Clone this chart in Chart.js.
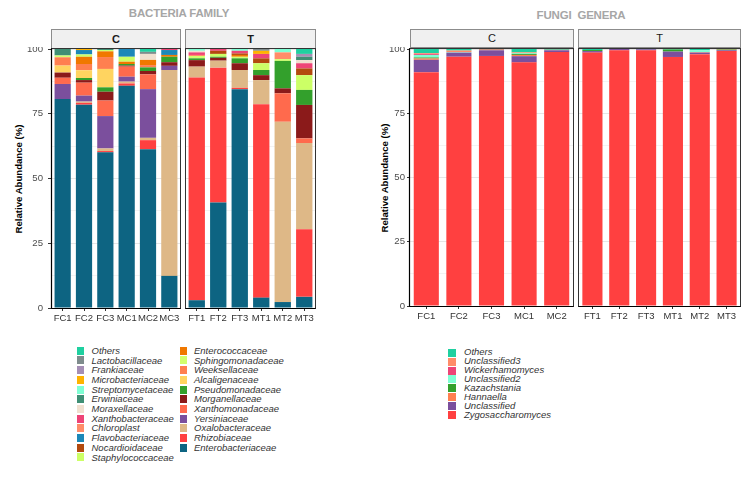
<!DOCTYPE html>
<html><head><meta charset="utf-8">
<script src="https://cdn.jsdelivr.net/npm/chart.js@4.4.1/dist/chart.umd.min.js"></script>
<style>
html,body{margin:0;padding:0;background:#fff;}
body{width:750px;height:483px;position:relative;overflow:hidden;font-family:"Liberation Sans",Arial,sans-serif;}
canvas{position:absolute;}
.title{position:absolute;color:#a6a6a6;font-size:11.5px;font-weight:bold;white-space:pre;transform:translate(-50%,-50%);letter-spacing:-0.2px;}
.strip{position:absolute;background:#f0f0f0;border:1px solid #8c8c8c;box-sizing:border-box;text-align:center;color:#1a1a1a;font-size:11px;}
.ytitle{position:absolute;font-weight:bold;font-size:9.6px;color:#000;transform:translate(-50%,-50%) rotate(-90deg);white-space:nowrap;}
.leg{position:absolute;font-style:italic;font-size:9.5px;color:#333;white-space:nowrap;}
.sw{position:absolute;}
</style></head>
<body>
<div class="title" style="left:179px;top:13px;">BACTERIA FAMILY</div>
<div class="title" style="left:581px;top:15px;">FUNGI  GENERA</div>
<div class="ytitle" style="left:17.5px;top:179px;">Relative Abundance (%)</div>
<div class="ytitle" style="left:384px;top:178px;">Relative Abundance (%)</div>
<div class="strip" style="left:51px;top:29px;width:130px;height:20px;line-height:18px;font-weight:bold;">C</div>
<div class="strip" style="left:185px;top:29px;width:131px;height:20px;line-height:18px;font-weight:bold;">T</div>
<div class="strip" style="left:410px;top:29px;width:164px;height:19px;line-height:17px;">C</div>
<div class="strip" style="left:578px;top:29px;width:163px;height:19px;line-height:17px;">T</div>
<canvas id="bc"></canvas><canvas id="bt"></canvas><canvas id="fc"></canvas><canvas id="ft"></canvas>
<div id="legends"></div>
<script>
// ---------- categories ----------
const bacteriaSamplesC = ["FC1","FC2","FC3","MC1","MC2","MC3"];
const bacteriaSamplesT = ["FT1","FT2","FT3","MT1","MT2","MT3"];
const fungiSamplesC = ["FC1","FC2","FC3","MC1","MC2"];
const fungiSamplesT = ["FT1","FT2","FT3","MT1","MT2","MT3"];
const yTickValues = [0, 25, 50, 75, 100];

// ---------- bacteria (values in order FC1,FC2,FC3,MC1,MC2,MC3,FT1,FT2,FT3,MT1,MT2,MT3) ----------
const Enterobacteriaceae = [80.7, 78.5, 60.1, 85.8, 61.3, 12.4, 3.0, 40.7, 84.5, 4.0, 2.3, 4.3];
const Rhizobiaceae       = [0, 0.7, 0.5, 0.9, 3.5, 0, 86.0, 52.1, 0.5, 74.7, 0, 26.1];
const Oxalobacteraceae   = [0, 0.5, 1.0, 0.7, 0.9, 79.5, 4.2, 2.7, 6.9, 9.3, 69.6, 33.3];
const Yersiniaceae       = [5.8, 2.3, 12.5, 1.9, 18.8, 1.6, 0, 0, 0, 0, 0, 0];
const Xanthomonadaceae   = [2.4, 5.0, 6.0, 3.9, 5.7, 0, 0, 0, 0, 0, 11.0, 1.8];
const Morganellaceae     = [2.0, 1.0, 3.4, 0.4, 1.3, 1.4, 2.5, 1.1, 2.6, 1.9, 1.9, 12.9];
const Pseudomonadaceae   = [0, 0.8, 1.7, 0.6, 1.4, 2.1, 0.7, 0.4, 1.9, 2.0, 10.6, 5.8];
const Alcaligenaceae     = [2.7, 3.0, 7.1, 0, 0, 0, 0, 0, 0, 0, 0, 0];
const Weeksellaceae      = [3.2, 2.4, 4.6, 0, 0.9, 0, 0, 0, 0, 0, 0, 0];
const Sphingomonadaceae  = [0.7, 0, 0, 0, 0, 0, 0.9, 0, 0.6, 0, 0.7, 0];
const Enterococcaceae    = [0, 2.8, 2.2, 0.9, 2.0, 0.7, 0, 0, 0.7, 0, 0, 0];
const Staphylococcaceae  = [0, 0.9, 0.5, 1.9, 0, 0, 0, 1.1, 0, 2.6, 0, 5.7];
const Nocardioidaceae    = [0, 0, 0, 0, 0, 0, 0, 1.2, 0.6, 1.9, 0, 2.6];
const Flavobacteriaceae  = [0, 1.7, 0, 3.0, 0, 1.9, 0, 0, 0, 0, 0, 0];
const Chloroplast        = [0, 0, 0, 0, 0, 0, 0.4, 0, 0, 0, 2.6, 0];
const Xanthobacteraceae  = [0, 0, 0, 0, 0, 0.4, 1.0, 0.7, 1.0, 1.7, 0, 2.0];
const Moraxellaceae      = [0, 0, 0, 0, 2.3, 0, 0.6, 0, 0, 0, 0, 1.2];
const Erwiniaceae        = [2.5, 0, 0.4, 0, 0, 0, 0, 0, 0, 0, 0, 1.3];
const Streptomycetaceae  = [0, 0, 0, 0, 0, 0, 0.7, 0, 0.7, 0, 1.3, 0];
const Microbacteriaceae  = [0, 0.4, 0, 0, 0, 0, 0, 0, 0, 1.2, 0, 0];
const Frankiaceae        = [0, 0, 0, 0, 0, 0, 0, 0, 0, 0, 0, 1.1];
const Lactobacillaceae   = [0, 0, 0, 0, 0.8, 0, 0, 0, 0, 0.7, 0, 0];
const BacOthers          = [0, 0, 0, 0, 1.1, 0, 0, 0, 0, 0, 0, 1.9];

// stack order bottom -> top
const bacteriaNames = ["Enterobacteriaceae","Rhizobiaceae","Oxalobacteraceae","Yersiniaceae","Xanthomonadaceae","Morganellaceae","Pseudomonadaceae","Alcaligenaceae","Weeksellaceae","Sphingomonadaceae","Enterococcaceae","Staphylococcaceae","Nocardioidaceae","Flavobacteriaceae","Chloroplast","Xanthobacteraceae","Moraxellaceae","Erwiniaceae","Streptomycetaceae","Microbacteriaceae","Frankiaceae","Lactobacillaceae","Others"];
const bacteriaColors = ["#0d6482","#ff4040","#deb887","#7b4f9d","#ff6a4d","#8b1a1a","#33a02c","#ffd460","#ff7f50","#d2ff6e","#f07800","#ccff66","#b34a0e","#1c88b8","#ff8c69","#ee4477","#f0e0d0","#3f8f75","#7fffd4","#ffb300","#a58fb5","#7f8c8d","#1fd0a0"];
const bacteriaSeries = [Enterobacteriaceae,Rhizobiaceae,Oxalobacteraceae,Yersiniaceae,Xanthomonadaceae,Morganellaceae,Pseudomonadaceae,Alcaligenaceae,Weeksellaceae,Sphingomonadaceae,Enterococcaceae,Staphylococcaceae,Nocardioidaceae,Flavobacteriaceae,Chloroplast,Xanthobacteraceae,Moraxellaceae,Erwiniaceae,Streptomycetaceae,Microbacteriaceae,Frankiaceae,Lactobacillaceae,BacOthers];

// ---------- fungi (values in order FC1,FC2,FC3,MC1,MC2,FT1,FT2,FT3,MT1,MT2,MT3) ----------
const Zygosaccharomyces = [91.0, 97.0, 97.3, 94.8, 98.8, 98.6, 99.5, 99.5, 96.9, 98.0, 99.2];
const Unclassified      = [4.8, 1.6, 2.2, 2.4, 0.7, 0.6, 0.5, 0.4, 2.1, 0.6, 0.3];
const Hannaella         = [0.5, 0, 0.2, 0.5, 0, 0, 0, 0, 0, 0.2, 0];
const Kazachstania      = [0.4, 0, 0.1, 0.4, 0, 0.4, 0, 0, 0.8, 0, 0.3];
const Unclassified2     = [1.0, 0.2, 0, 0.3, 0, 0, 0, 0, 0, 0.7, 0];
const Wickerhamomyces   = [0.4, 0, 0.2, 0, 0, 0, 0, 0, 0, 0, 0];
const Unclassified3     = [0.3, 0.6, 0, 0.3, 0.2, 0, 0, 0, 0, 0, 0.2];
const FunOthers         = [1.6, 0.6, 0, 1.3, 0.3, 0.4, 0, 0.1, 0.2, 0.5, 0];

const fungiNames = ["Zygosaccharomyces","Unclassified","Hannaella","Kazachstania","Unclassified2","Wickerhamomyces","Unclassified3","Others"];
const fungiColors = ["#ff4040","#7b4f9d","#ff7f50","#33a02c","#7fffd4","#ee4477","#ff8c69","#1fd0a0"];
const fungiSeries = [Zygosaccharomyces,Unclassified,Hannaella,Kazachstania,Unclassified2,Wickerhamomyces,Unclassified3,FunOthers];

const FONT = '"Liberation Sans", Arial, sans-serif';

const boxPlugin = {
  id: 'box',
  afterDatasetsDraw(chart) {
    const {ctx, chartArea: a} = chart;
    const l = Math.round(a.left) - 0.5, t = Math.round(a.top) - 0.5;
    const r = Math.round(a.right) + 0.5, b = Math.round(a.bottom) + 0.5;
    ctx.save();
    ctx.strokeStyle = '#333';
    ctx.lineWidth = 1;
    ctx.strokeRect(l, t, r - l, b - t);
    ctx.strokeStyle = '#000';
    ctx.lineWidth = 1.2;
    ctx.beginPath();
    if (chart.options.scales.y.ticks.display) { ctx.moveTo(l, t); ctx.lineTo(l, b); }
    ctx.moveTo(l, b); ctx.lineTo(r, b);
    ctx.stroke();
    ctx.restore();
  }
};

function panel(id, labels, series, colors, names, from, to, g) {
  const c = document.getElementById(id);
  const yw = g.showY ? g.yw : 0;
  const padL = g.showY ? 0 : 1;
  const L = g.left - yw - padL;
  const T = g.top - 2;
  const W = g.right - L + 2;
  const H = g.bottom - T + 24;
  c.width = W; c.height = H;
  c.style.left = L + 'px'; c.style.top = T + 'px';
  c.style.width = W + 'px'; c.style.height = H + 'px';
  new Chart(c, {
    type: 'bar',
    data: {
      labels: labels,
      datasets: series.map((s, i) => ({
        label: names[i], data: s.slice(from, to), backgroundColor: colors[i],
        borderWidth: 0, barPercentage: g.bp, categoryPercentage: 1
      }))
    },
    options: {
      responsive: false, animation: false, devicePixelRatio: 1,
      layout: {padding: {top: 2, right: 2, left: padL, bottom: 0}},
      plugins: {legend: {display: false}, tooltip: {enabled: false}},
      scales: {
        x: {
          stacked: true, offset: true,
          grid: {display: true, drawOnChartArea: false, offset: false, tickLength: 3, color: '#333', lineWidth: 1},
          border: {display: false},
          ticks: {color: '#333', font: {size: 9.5, family: FONT}, padding: 2, maxRotation: 0, autoSkip: false},
          afterFit(s) { s.height = 24; s.paddingLeft = 0; s.paddingRight = 0; }
        },
        y: {
          stacked: true, min: 0, max: 100,
          afterBuildTicks(s) {
            s.ticks = [];
            for (let i = 0; i < yTickValues.length; i++) {
              s.ticks.push({value: yTickValues[i], major: true});
              if (i < yTickValues.length - 1) s.ticks.push({value: (yTickValues[i] + yTickValues[i + 1]) / 2, minor: true});
            }
          },
          ticks: {
            display: g.showY, autoSkip: false, color: '#4d4d4d', padding: g.tp,
            font: {size: 9.6, family: FONT},
            callback: (v) => (yTickValues.indexOf(v) >= 0 ? String(v) : '')
          },
          grid: {
            drawTicks: g.showY, tickLength: g.tl, lineWidth: 1,
            color: (ctx) => (ctx.tick && yTickValues.indexOf(ctx.tick.value) >= 0 ? '#e6e6e6' : '#f3f3f3'),
            tickColor: (ctx) => (ctx.tick && yTickValues.indexOf(ctx.tick.value) >= 0 ? '#333' : 'rgba(0,0,0,0)')
          },
          border: {display: false},
          afterFit(s) { s.width = yw; s.paddingTop = 0; s.paddingBottom = 0; }
        }
      }
    },
    plugins: [boxPlugin]
  });
}

panel('bc', bacteriaSamplesC, bacteriaSeries, bacteriaColors, bacteriaNames, 0, 6,
  {left: 52, right: 180, top: 49, bottom: 308, showY: true, yw: 52, tl: 4, tp: 5, bp: 0.76});
panel('bt', bacteriaSamplesT, bacteriaSeries, bacteriaColors, bacteriaNames, 6, 12,
  {left: 186, right: 315, top: 49, bottom: 308, showY: false, yw: 0, tl: 4, tp: 5, bp: 0.76});
panel('fc', fungiSamplesC, fungiSeries, fungiColors, fungiNames, 0, 5,
  {left: 410, right: 573, top: 49, bottom: 306, showY: true, yw: 50, tl: 3, tp: 2, bp: 0.77});
panel('ft', fungiSamplesT, fungiSeries, fungiColors, fungiNames, 5, 11,
  {left: 579, right: 740, top: 49, bottom: 306, showY: false, yw: 0, tl: 3, tp: 2, bp: 0.75});

// ---------- legends (HTML, real text) ----------
function legendColumn(names, colors, x0, textX, y0, step, sw, sh) {
  const host = document.getElementById('legends');
  names.forEach((n, i) => {
    const cy = y0 + i * step;
    const s = document.createElement('div');
    s.className = 'sw';
    s.style.cssText = `left:${x0}px;top:${cy - sh / 2}px;width:${sw}px;height:${sh}px;background:${colors[i]};`;
    host.appendChild(s);
    const t = document.createElement('div');
    t.className = 'leg';
    t.style.cssText = `left:${textX}px;top:${cy - step / 2}px;height:${step}px;line-height:${step}px;`;
    t.textContent = n;
    host.appendChild(t);
  });
}
const bacLegendOrder = bacteriaNames.slice().reverse();
const bacLegendColors = bacteriaColors.slice().reverse();
legendColumn(bacLegendOrder.slice(0, 12), bacLegendColors.slice(0, 12), 76.5, 91.5, 350.7, 9.7, 7, 8);
legendColumn(bacLegendOrder.slice(12), bacLegendColors.slice(12), 180, 194, 350.7, 9.7, 7, 8);
legendColumn(fungiNames.slice().reverse(), fungiColors.slice().reverse(), 448, 464, 352.7, 8.9, 8, 8);
</script>
</body></html>
